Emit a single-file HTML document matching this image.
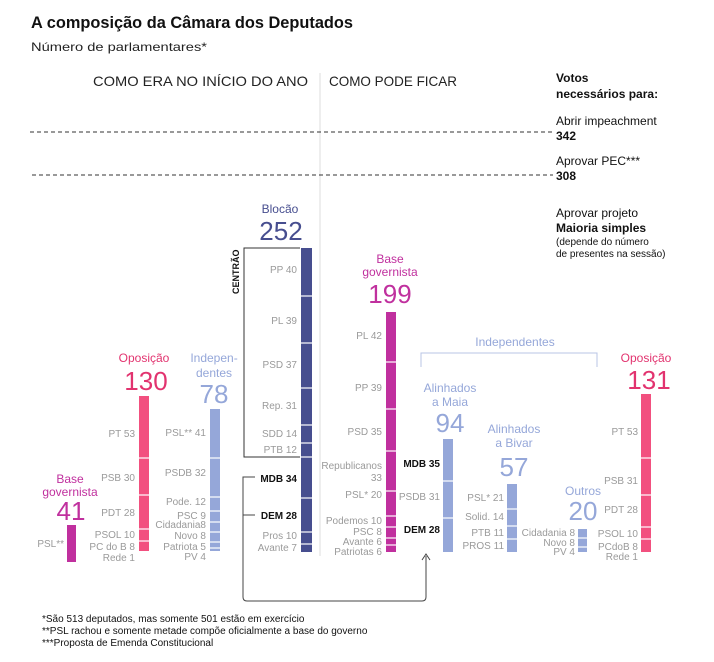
<!DOCTYPE html><html><head><meta charset="utf-8"><style>
body{margin:0;background:#fff}
svg{display:block;font-family:"Liberation Sans",sans-serif}
.l{font-size:10px;fill:#9a9a9a;text-anchor:end}
.b{font-size:10px;font-weight:bold;fill:#111;text-anchor:end}
.s{stroke:#fff;stroke-width:1.2}
</style></head><body>
<svg width="714" height="662" viewBox="0 0 714 662">
<text x="31" y="28" font-size="17" font-weight="bold" fill="#111" textLength="322" lengthAdjust="spacingAndGlyphs">A composição da Câmara dos Deputados</text>
<text x="31" y="51" font-size="12" fill="#222" textLength="176" lengthAdjust="spacingAndGlyphs">Número de parlamentares*</text>
<text x="93" y="86" font-size="14" fill="#222" textLength="215" lengthAdjust="spacingAndGlyphs">COMO ERA NO INÍCIO DO ANO</text>
<text x="329" y="86" font-size="14" fill="#222" textLength="128" lengthAdjust="spacingAndGlyphs">COMO PODE FICAR</text>
<line x1="320" y1="73" x2="320" y2="556" stroke="#ddd"/>
<line x1="30" y1="132" x2="553" y2="132" stroke="#333" stroke-dasharray="4,3"/>
<line x1="32" y1="175" x2="553" y2="175" stroke="#333" stroke-dasharray="4,3"/>
<g font-size="12" fill="#111">
<text x="556" y="82" font-weight="bold">Votos</text>
<text x="556" y="98" font-weight="bold">necessários para:</text>
<text x="556" y="125">Abrir impeachment</text>
<text x="556" y="140" font-weight="bold">342</text>
<text x="556" y="165">Aprovar PEC***</text>
<text x="556" y="180" font-weight="bold">308</text>
<text x="556" y="217">Aprovar projeto</text>
<text x="556" y="232" font-weight="bold">Maioria simples</text>
<text x="556" y="245" font-size="10">(depende do número</text>
<text x="556" y="257" font-size="10">de presentes na sessão)</text>
</g>
<rect x="67" y="525" width="9" height="37" fill="#c0309e"/>
<rect x="139" y="396" width="10" height="155" fill="#f2507f"/>
<g class="s"><line x1="139" x2="149" y1="458" y2="458"/><line x1="139" x2="149" y1="495" y2="495"/><line x1="139" x2="149" y1="529" y2="529"/><line x1="139" x2="149" y1="541" y2="541"/></g>
<rect x="210" y="409" width="10" height="142" fill="#95a7d9"/>
<g class="s"><line x1="210" x2="220" y1="458" y2="458"/><line x1="210" x2="220" y1="497" y2="497"/><line x1="210" x2="220" y1="511" y2="511"/><line x1="210" x2="220" y1="522" y2="522"/><line x1="210" x2="220" y1="532" y2="532"/><line x1="210" x2="220" y1="542" y2="542"/><line x1="210" x2="220" y1="548" y2="548"/></g>
<rect x="301" y="248" width="11" height="304" fill="#474e8f"/>
<g class="s"><line x1="301" x2="312" y1="296" y2="296"/><line x1="301" x2="312" y1="343" y2="343"/><line x1="301" x2="312" y1="388" y2="388"/><line x1="301" x2="312" y1="425" y2="425"/><line x1="301" x2="312" y1="443" y2="443"/><line x1="301" x2="312" y1="457" y2="457"/><line x1="301" x2="312" y1="498" y2="498"/><line x1="301" x2="312" y1="532" y2="532"/><line x1="301" x2="312" y1="544" y2="544"/></g>
<rect x="386" y="312" width="10" height="240" fill="#c0309e"/>
<g class="s"><line x1="386" x2="396" y1="362" y2="362"/><line x1="386" x2="396" y1="409" y2="409"/><line x1="386" x2="396" y1="451" y2="451"/><line x1="386" x2="396" y1="491" y2="491"/><line x1="386" x2="396" y1="516" y2="516"/><line x1="386" x2="396" y1="527" y2="527"/><line x1="386" x2="396" y1="538" y2="538"/><line x1="386" x2="396" y1="545" y2="545"/></g>
<rect x="443" y="439" width="10" height="113" fill="#95a7d9"/>
<g class="s"><line x1="443" x2="453" y1="481" y2="481"/><line x1="443" x2="453" y1="518" y2="518"/></g>
<rect x="507" y="484" width="10" height="68" fill="#95a7d9"/>
<g class="s"><line x1="507" x2="517" y1="509" y2="509"/><line x1="507" x2="517" y1="526" y2="526"/><line x1="507" x2="517" y1="539" y2="539"/></g>
<rect x="578" y="529" width="9" height="23" fill="#95a7d9"/>
<g class="s"><line x1="578" x2="587" y1="538" y2="538"/><line x1="578" x2="587" y1="547" y2="547"/></g>
<rect x="641" y="394" width="10" height="158" fill="#f2507f"/>
<g class="s"><line x1="641" x2="651" y1="458" y2="458"/><line x1="641" x2="651" y1="495" y2="495"/><line x1="641" x2="651" y1="527" y2="527"/><line x1="641" x2="651" y1="539" y2="539"/></g>
<g text-anchor="middle">
<text x="70" y="483" font-size="12" fill="#c0309e">Base</text>
<text x="70" y="496" font-size="12" fill="#c0309e">governista</text>
<text x="71" y="520" font-size="26" fill="#c0309e">41</text>
<text x="144" y="362" font-size="12" fill="#e2336f">Oposição</text>
<text x="146" y="390" font-size="26" fill="#e2336f">130</text>
<text x="214" y="362" font-size="12" fill="#95a7d9">Indepen-</text>
<text x="214" y="377" font-size="12" fill="#95a7d9">dentes</text>
<text x="214" y="403" font-size="26" fill="#95a7d9">78</text>
<text x="280" y="213" font-size="12" fill="#474e8f">Blocão</text>
<text x="281" y="240" font-size="26" fill="#474e8f">252</text>
<text x="390" y="263" font-size="12" fill="#c0309e">Base</text>
<text x="390" y="276" font-size="12" fill="#c0309e">governista</text>
<text x="390" y="303" font-size="26" fill="#c0309e">199</text>
<text x="450" y="392" font-size="12" fill="#95a7d9">Alinhados</text>
<text x="450" y="406" font-size="12" fill="#95a7d9">a Maia</text>
<text x="450" y="432" font-size="26" fill="#95a7d9">94</text>
<text x="514" y="433" font-size="12" fill="#95a7d9">Alinhados</text>
<text x="514" y="447" font-size="12" fill="#95a7d9">a Bivar</text>
<text x="514" y="476" font-size="26" fill="#95a7d9">57</text>
<text x="583" y="495" font-size="12" fill="#95a7d9">Outros</text>
<text x="583" y="520" font-size="26" fill="#95a7d9">20</text>
<text x="646" y="362" font-size="12" fill="#e2336f">Oposição</text>
<text x="649" y="389" font-size="26" fill="#e2336f">131</text>
<text x="515" y="346" font-size="12" fill="#95a7d9">Independentes</text>
</g>
<path d="M421,367 V353 H597 V367" fill="none" stroke="#b8c4e6"/>
<text class="l" x="64" y="547" font-size="8">PSL**</text>
<text class="l" x="135" y="437">PT 53</text><text class="l" x="135" y="481">PSB 30</text><text class="l" x="135" y="516">PDT 28</text><text class="l" x="135" y="538">PSOL 10</text><text class="l" x="135" y="550">PC do B 8</text><text class="l" x="135" y="561">Rede 1</text>
<text class="l" x="206" y="436">PSL** 41</text><text class="l" x="206" y="476">PSDB 32</text><text class="l" x="206" y="505">Pode. 12</text><text class="l" x="206" y="519">PSC 9</text><text class="l" x="206" y="528">Cidadania8</text><text class="l" x="206" y="539">Novo 8</text><text class="l" x="206" y="550">Patriota 5</text><text class="l" x="206" y="560">PV 4</text>
<text class="l" x="297" y="273">PP 40</text><text class="l" x="297" y="324">PL 39</text><text class="l" x="297" y="368">PSD 37</text><text class="l" x="297" y="409">Rep. 31</text><text class="l" x="297" y="437">SDD 14</text><text class="l" x="297" y="453">PTB 12</text>
<text class="b" x="297" y="482">MDB 34</text><text class="b" x="297" y="519">DEM 28</text>
<text class="l" x="297" y="539">Pros 10</text><text class="l" x="297" y="551">Avante 7</text>
<text class="l" x="382" y="339">PL 42</text><text class="l" x="382" y="391">PP 39</text><text class="l" x="382" y="435">PSD 35</text><text class="l" x="382" y="469">Republicanos</text><text class="l" x="382" y="481">33</text><text class="l" x="382" y="498">PSL* 20</text><text class="l" x="382" y="524">Podemos 10</text><text class="l" x="382" y="535">PSC 8</text><text class="l" x="382" y="545">Avante 6</text><text class="l" x="382" y="555">Patriotas 6</text>
<text class="b" x="440" y="467">MDB 35</text><text class="l" x="440" y="500">PSDB 31</text><text class="b" x="440" y="533">DEM 28</text>
<text class="l" x="504" y="501">PSL* 21</text><text class="l" x="504" y="520">Solid. 14</text><text class="l" x="504" y="536">PTB 11</text><text class="l" x="504" y="549">PROS 11</text>
<text class="l" x="575" y="536">Cidadania 8</text><text class="l" x="575" y="546">Novo 8</text><text class="l" x="575" y="555">PV 4</text>
<text class="l" x="638" y="435">PT 53</text><text class="l" x="638" y="484">PSB 31</text><text class="l" x="638" y="513">PDT 28</text><text class="l" x="638" y="537">PSOL 10</text><text class="l" x="638" y="550">PCdoB 8</text><text class="l" x="638" y="560">Rede 1</text>
<path d="M300,248 H244 V457 H300" fill="none" stroke="#333" stroke-width="1"/>
<text transform="translate(239,294) rotate(-90)" font-size="9" font-weight="bold" fill="#111">CENTRÃO</text>
<path d="M255,477 H243 V597 Q243,601 247,601 H422 Q426,601 426,597 V556" fill="none" stroke="#444"/>
<path d="M243,515 H255" stroke="#444"/>
<path d="M422,560 L426,554 L430,560" fill="none" stroke="#444"/>
<g font-size="10" fill="#111">
<text x="42" y="622">*São 513 deputados, mas somente 501 estão em exercício</text>
<text x="42" y="634">**PSL rachou e somente metade compõe oficialmente a base do governo</text>
<text x="42" y="646">***Proposta de Emenda Constitucional</text>
</g>
</svg>
</body></html>
